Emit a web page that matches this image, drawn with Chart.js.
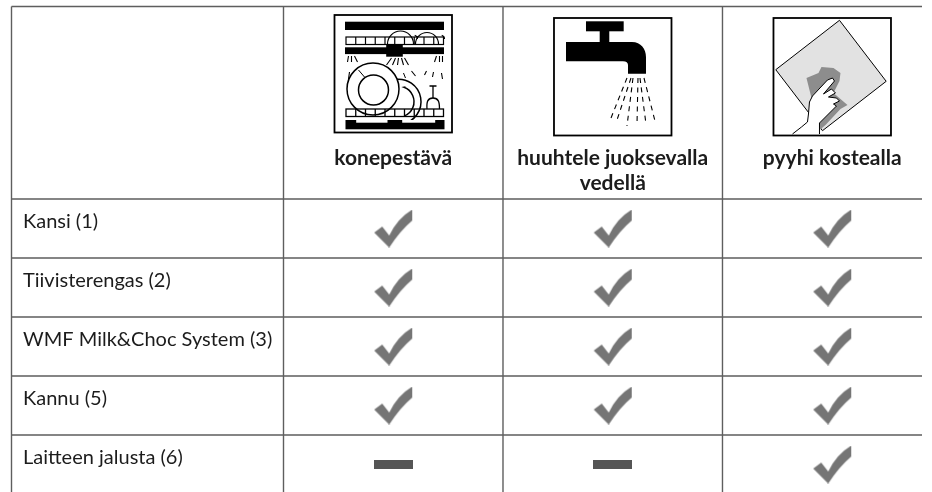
<!DOCTYPE html>
<html>
<head>
<meta charset="utf-8">
<style>
  html, body { margin: 0; padding: 0; background: #fff; }
  #wrap { width: 932px; height: 492px; overflow: hidden; }
</style>
<script src="https://cdn.jsdelivr.net/npm/chart.js@4"></script>
</head>
<body>
<div id="wrap"><canvas id="chart" width="932" height="492"></canvas></div>
<script>
const columnLabels = ["konepestävä", ["huuhtele juoksevalla", "vedellä"], "pyyhi kostealla"]
const rowLabels = ["Kansi (1)", "Tiivisterengas (2)", "WMF Milk&Choc System (3)", "Kannu (5)", "Laitteen jalusta (6)"]

// 1 = suitable, 0 = not suitable
const konepesu = [1, 1, 1, 1, 0]
const huuhtelu = [1, 1, 1, 1, 0]
const pyyhinta = [1, 1, 1, 1, 1]

const columnEdges = [-0.5, 0.5, 1.5]
const rowEdges = [-0.5, 0.5, 1.5, 2.5, 3.5]

const LINE = "#5e5e5e"
const TEXT = "#1c1c1c"
const FONT = "Lato, 'Noto Sans', sans-serif"

function pointsFor(flag) {
  return [konepesu, huuhtelu, pyyhinta].flatMap((col, x) =>
    col.flatMap((v, y) => (v === flag ? [{ x, y }] : []))
  )
}

function markCanvas(w, h, paint) {
  const c = document.createElement("canvas")
  c.width = w
  c.height = h
  paint(c.getContext("2d"))
  return c
}

const checkMark = markCanvas(40, 38, g => {
  g.fillStyle = "#757575"
  g.beginPath()
  g.moveTo(1, 23)
  g.lineTo(9, 17)
  g.lineTo(16, 26)
  g.quadraticCurveTo(24, 9, 39, 0)
  g.lineTo(39, 11)
  g.quadraticCurveTo(27, 21, 16, 38)
  g.closePath()
  g.fill()
})

const dashMark = markCanvas(39, 9, g => {
  g.fillStyle = "#555"
  g.fillRect(0, 0, 39, 9)
})

function poly(g, pts) {
  g.beginPath()
  pts.forEach((p, i) => (i ? g.lineTo(p[0], p[1]) : g.moveTo(p[0], p[1])))
  g.closePath()
}

function strokeLines(g, lines) {
  g.beginPath()
  lines.forEach(l => {
    g.moveTo(l[0], l[1])
    g.lineTo(l[2], l[3])
  })
  g.stroke()
}

function rack(g, y, h, cells) {
  g.strokeRect(11.5, y, 97.5, h)
  for (let i = 1; i < cells; i++) {
    const x = 11.5 + (97.5 / cells) * i
    strokeLines(g, [[x, y, x, y + h]])
  }
}

function drawDishwasher(g) {
  g.fillStyle = "#000"
  g.strokeStyle = "#000"
  g.fillRect(10.5, 6.7, 99, 8.3)

  g.lineWidth = 1.2
  rack(g, 22, 7.5, 10)
  g.fillRect(10.5, 32.3, 99, 6.8)
  g.fillRect(51.7, 29, 16.6, 12.7)

  // cups on the upper rack
  g.lineWidth = 1.2
  g.beginPath()
  g.arc(66, 29, 13, Math.PI, 2 * Math.PI)
  g.moveTo(104, 29)
  g.arc(92.5, 29, 11.5, 0, Math.PI, true)
  g.moveTo(83, 24)
  g.arc(79, 24, 4, 0, 1.6 * Math.PI, true)
  g.moveTo(110, 24)
  g.arc(106, 24, 4, 0, 1.6 * Math.PI, true)
  g.stroke()

  // spray under the upper arm
  g.lineWidth = 1.1
  strokeLines(g, [
    [14, 41, 13, 47], [17, 41, 17, 47], [20, 41, 23, 47],
    [57, 43, 52, 50], [61, 43, 58, 50], [64, 43, 63, 50], [67, 43, 69, 50], [70, 43, 74, 50],
    [102, 41, 100, 47], [105, 41, 105, 47], [108, 41, 108, 47],
    [15, 57, 14, 64], [26, 55, 30, 61],
    [77, 56, 81, 61], [92, 56, 90, 60], [99, 57, 98, 62], [107, 58, 108, 64]
  ])

  g.lineWidth = 1.5
  g.beginPath()
  g.arc(64, 86.7, 22.5, -1.75, 1.75)
  g.moveTo(71, 72)
  g.arc(64, 86.7, 15.5, -1.2, 1.2)
  g.stroke()

  g.fillStyle = "#fff"
  g.beginPath()
  g.arc(38.5, 74, 26, 0, 2 * Math.PI)
  g.fill()
  g.fillStyle = "#000"
  g.beginPath()
  g.arc(38.5, 74, 26, 0, 2 * Math.PI)
  g.moveTo(54, 75)
  g.arc(39, 75, 15, 0, 2 * Math.PI)
  g.stroke()
  g.lineWidth = 1
  strokeLines(g, [[24, 55, 30, 62], [69, 58, 71, 63]])

  // glass
  g.lineWidth = 1.3
  strokeLines(g, [[95, 71, 102, 71], [98.5, 71, 98.5, 83]])
  g.beginPath()
  g.moveTo(92.5, 94)
  g.bezierCurveTo(92, 87, 93, 83, 98.5, 83)
  g.bezierCurveTo(104, 83, 105, 87, 105, 94)
  g.stroke()

  g.lineWidth = 1.3
  rack(g, 94, 7.5, 10)

  g.fillStyle = "#000"
  g.fillRect(11, 105, 99, 9.3)
  g.fillStyle = "#fff"
  g.fillRect(21.7, 105, 31.3, 2.7)
  g.fillRect(67.7, 105, 33, 2.7)
}

function drawFaucet(g) {
  g.fillStyle = "#000"
  g.strokeStyle = "#000"
  g.fillRect(32, 3.3, 37.7, 10)
  g.fillRect(45.7, 13, 9.6, 12)
  g.beginPath()
  g.moveTo(12, 24)
  g.lineTo(78, 24)
  g.bezierCurveTo(87, 24, 92, 31, 92, 39)
  g.lineTo(92, 55.7)
  g.lineTo(74, 55.7)
  g.lineTo(74, 47)
  g.quadraticCurveTo(74, 43.5, 69, 43.3)
  g.lineTo(12, 43.3)
  g.closePath()
  g.fill()

  // water
  g.lineWidth = 1.1
  g.setLineDash([5, 4.5])
  strokeLines(g, [
    [73, 60, 57, 100],
    [77, 60, 63, 102],
    [79, 60, 73, 108],
    [84, 60, 83, 107],
    [86, 60, 92, 106],
    [90, 60, 101, 103]
  ])
  g.setLineDash([])
}

function drawWipe(g) {
  g.fillStyle = "#e2e2e2"
  g.strokeStyle = "#000"
  g.lineWidth = 1
  poly(g, [[66, 2.3], [112.7, 63.3], [49, 112.7], [2.3, 51.7]])
  g.fill()
  g.stroke()

  // cloth
  g.fillStyle = "#8d8d8d"
  poly(g, [[33, 60], [45, 55], [48, 49], [60, 50], [67, 55], [66, 63], [60, 75], [74, 87], [67, 91], [52, 107], [45, 113], [38, 90], [38, 80]])
  g.fill()

  // hand
  const hand = [[19, 116], [28, 109], [34, 104], [35, 96], [36, 84], [39, 78], [54, 62], [59, 60], [61, 63], [50, 76], [58, 71], [62, 75], [55, 79], [63, 80], [66, 83], [60, 86], [63, 88], [60, 91], [46, 105], [46, 116]]
  g.fillStyle = "#fff"
  poly(g, hand)
  g.fill()
  g.beginPath()
  hand.forEach((p, i) => (i ? g.lineTo(p[0], p[1]) : g.moveTo(p[0], p[1])))
  g.stroke()
}

const icons = [
  { draw: drawDishwasher, top: 15 },
  { draw: drawFaucet, top: 18 },
  { draw: drawWipe, top: 18 }
]

const tableFrame = {
  id: "tableFrame",
  beforeDatasetsDraw(chart) {
    const { ctx, scales, chartArea } = chart
    const frameLeft = 11.5
    const frameTop = 6.5
    ctx.save()
    ctx.strokeStyle = LINE
    ctx.lineWidth = 1.4

    ctx.beginPath()
    ctx.moveTo(frameLeft, frameTop)
    ctx.lineTo(chartArea.right, frameTop)
    ctx.moveTo(frameLeft, frameTop)
    ctx.lineTo(frameLeft, chartArea.bottom)
    scales.y.ticks.forEach(t => {
      const y = scales.y.getPixelForValue(t.value)
      ctx.moveTo(frameLeft, y)
      ctx.lineTo(chartArea.right, y)
    })
    scales.x.ticks.forEach(t => {
      const x = scales.x.getPixelForValue(t.value)
      ctx.moveTo(x, frameTop)
      ctx.lineTo(x, chartArea.bottom)
    })
    ctx.stroke()

    icons.forEach((icon, i) => {
      const size = 117.5
      const left = scales.x.getPixelForValue(i) - size / 2
      ctx.save()
      ctx.translate(left, icon.top)
      ctx.beginPath()
      ctx.rect(0, 0, size, size)
      ctx.clip()
      icon.draw(ctx)
      ctx.restore()
      ctx.strokeStyle = "#000"
      ctx.lineWidth = 1.8
      ctx.strokeRect(left, icon.top, size, size)
    })
    ctx.restore()
  }
}

function noAxisPadding(s) {
  s.paddingLeft = 0
  s.paddingRight = 0
  s.paddingTop = 0
  s.paddingBottom = 0
}

new Chart(document.getElementById("chart"), {
  type: "scatter",
  data: {
    datasets: [
      { label: "kyllä", data: pointsFor(1), pointStyle: checkMark, pointRadius: 20, clip: false },
      { label: "ei", data: pointsFor(0), pointStyle: dashMark, pointRadius: 20, clip: false }
    ]
  },
  options: {
    responsive: false,
    animation: false,
    events: [],
    layout: { autoPadding: false, padding: { left: 23, top: 6, right: 10, bottom: 0 } },
    plugins: { legend: { display: false }, tooltip: { enabled: false } },
    scales: {
      x: {
        type: "linear",
        position: "top",
        min: -0.5,
        max: 2.409,
        grid: { display: false },
        border: { display: false },
        afterBuildTicks: s => { s.ticks = columnEdges.map(value => ({ value })) },
        afterFit: s => { s.height = 193; noAxisPadding(s) },
        ticks: {
          autoSkip: false,
          maxRotation: 0,
          minRotation: 0,
          crossAlign: "far",
          padding: -5,
          labelOffset: 109.75,
          color: TEXT,
          font: { family: FONT, size: 21, weight: "bold", lineHeight: 1.2 },
          callback: (v, i) => columnLabels[i]
        }
      },
      y: {
        type: "linear",
        position: "left",
        reverse: true,
        min: -0.5,
        max: 4.466,
        grid: { display: false },
        border: { display: false },
        afterBuildTicks: s => { s.ticks = rowEdges.map(value => ({ value })) },
        afterFit: s => { s.width = 260.5; noAxisPadding(s) },
        ticks: {
          autoSkip: false,
          crossAlign: "far",
          labelOffset: 22.5,
          color: TEXT,
          font: { family: FONT, size: 20 },
          callback: (v, i) => rowLabels[i]
        }
      }
    }
  },
  plugins: [tableFrame]
})
</script>
</body>
</html>
